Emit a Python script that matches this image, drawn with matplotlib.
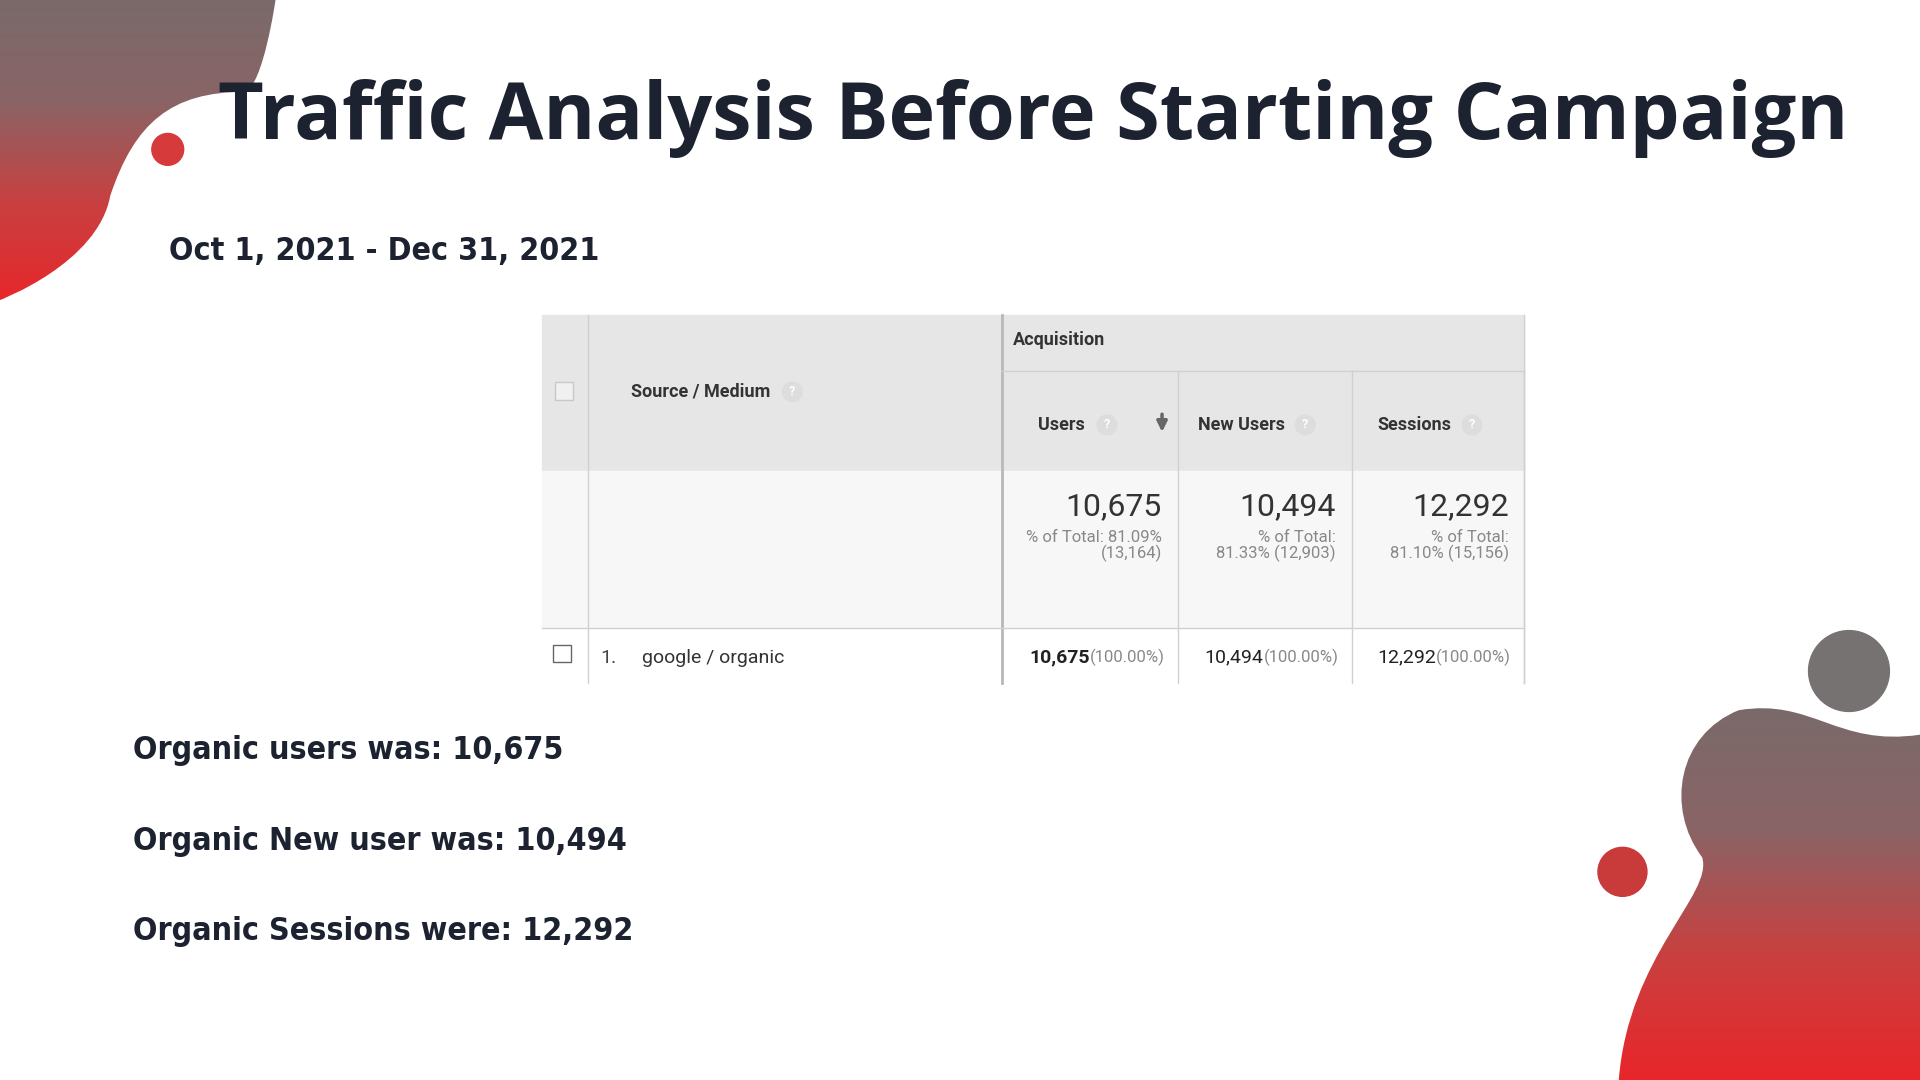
import numpy as np
import matplotlib
matplotlib.use("Agg")
import matplotlib.pyplot as plt
from matplotlib.patches import Rectangle, Circle, PathPatch
from matplotlib.path import Path
from matplotlib.colors import LinearSegmentedColormap

W, H = 1568, 882  # layout units (scaled to 1920x1080 output)

title = "Traffic Analysis Before Starting Campaign"
date_range = "Oct 1, 2021 - Dec 31, 2021"
metrics = ["Users", "New Users", "Sessions"]
totals = ["10,675", "10,494", "12,292"]
pct_text = ["% of Total: 81.09%\n(13,164)", "% of Total:\n81.33% (12,903)", "% of Total:\n81.10% (15,156)"]
row_source = "google / organic"
row_values = ["10,675", "10,494", "12,292"]
row_pct = ["(100.00%)", "(100.00%)", "(100.00%)"]
summary = ["Organic users was: 10,675", "Organic New user was: 10,494", "Organic Sessions were: 12,292"]

fig = plt.figure(figsize=(19.2, 10.8), dpi=100)
ax = fig.add_axes([0, 0, 1, 1])
ax.set_xlim(0, W)
ax.set_ylim(H, 0)
ax.axis("off")

cmap = LinearSegmentedColormap.from_list("blob", ["#e8262a", "#c94040", "#8a6466", "#7a6a6a"])


def gradient_blob(verts, codes, extent, reverse=False):
    path = Path(verts, codes)
    patch = PathPatch(path, facecolor="none", edgecolor="none")
    ax.add_patch(patch)
    g = np.linspace(0, 1, 256)
    grad = np.outer(g, np.ones(2)) if not reverse else np.outer(g[::-1], np.ones(2))
    im = ax.imshow(grad, cmap=cmap, extent=extent, aspect="auto", zorder=0)
    im.set_clip_path(patch)


C = Path.CURVE4
# top-left blob: grey at top, red at bottom
tl = [(0, 0), (225, 0), (225, 0), (215, 70), (200, 75), (140, 75), (110, 100),
      (90, 160), (80, 215), (0, 245), (0, 245), (0, 245), (0, 0)]
tl_codes = [Path.MOVETO, Path.LINETO, C, C, C, C, C, C, C, C, C, C, Path.CLOSEPOLY]
gradient_blob(tl, tl_codes, (0, 230, 250, 0), reverse=True)
# bottom-right blob
br = [(1568, 600), (1500, 610), (1480, 570), (1420, 580), (1370, 600), (1360, 660),
      (1390, 700), (1400, 730), (1330, 780), (1322, 882), (1322, 882), (1568, 882), (1568, 600)]
br_codes = [Path.MOVETO, C, C, C, C, C, C, C, C, C, Path.LINETO, Path.LINETO, Path.CLOSEPOLY]
gradient_blob(br, br_codes, (1320, 1568, 882, 575), reverse=True)

ax.add_patch(Circle((1510, 548), 33, color="#767272", zorder=1))
ax.add_patch(Circle((1325, 712), 20, color="#c93a3a", zorder=1))
ax.add_patch(Circle((137, 122), 13, color="#d63a3a", zorder=1))

ax.text(178, 97, title, fontsize=57, fontweight="bold", family="Open Sans",
        color="#1c2230", va="center", ha="left")
nf = dict(family="DejaVu Sans", fontstretch="condensed", fontweight="bold", color="#1c2230")
ax.text(138, 205, date_range, fontsize=23, va="center", ha="left", **nf)

# table
x0, x1, xs, xe = 443, 480, 818, 1245
cols = [818, 962, 1104, 1245]
hdr_top, hdr_mid, hdr_bot, tot_bot, row_bot = 257, 303, 385, 513, 558
ax.add_patch(Rectangle((x0, hdr_top), xe - x0, hdr_bot - hdr_top, color="#e6e6e6", zorder=2))
ax.add_patch(Rectangle((x0, hdr_bot), xe - x0, tot_bot - hdr_bot, color="#f7f7f7", zorder=2))
ax.add_patch(Rectangle((x0, tot_bot), xe - x0, row_bot - tot_bot, color="#ffffff", zorder=2))
lc = "#d0d0d0"
ax.plot([x1, x1], [hdr_top, row_bot], color=lc, lw=1, zorder=3)
ax.plot([xs, xs], [hdr_top, row_bot], color="#b8b8b8", lw=2, zorder=3)
for c in cols[1:]:
    ax.plot([c, c], [hdr_mid, row_bot], color=lc, lw=1, zorder=3)
ax.plot([xs, xe], [hdr_mid, hdr_mid], color=lc, lw=1, zorder=3)
ax.plot([x0, xe], [tot_bot, tot_bot], color=lc, lw=1, zorder=3)
ax.plot([xe, xe], [hdr_top, row_bot], color=lc, lw=1, zorder=3)

ax.add_patch(Rectangle((453, 312), 15, 15, facecolor="#f0f0f0", edgecolor="#c8c8c8", zorder=4))
ax.add_patch(Rectangle((452, 527), 14, 14, facecolor="white", edgecolor="#666666", zorder=4))

tf = dict(family="Roboto", zorder=5)
ax.text(515, 320, "Source / Medium", fontsize=13, fontweight="bold", color="#333333", va="center", **tf)
ax.text(827, 278, "Acquisition", fontsize=13, fontweight="bold", color="#333333", va="center", **tf)


def qmark(x, y):
    ax.add_patch(Circle((x, y), 8, color="#dddddd", zorder=5))
    ax.text(x, y, "?", fontsize=9, color="white", ha="center", va="center", fontweight="bold", **tf)


qmark(647, 320)
hx = [848, 978, 1125]
for i, m in enumerate(metrics):
    ax.text(hx[i], 347, m, fontsize=13, fontweight="bold", color="#333333", va="center", **tf)
qmark(904, 347)
qmark(1066, 347)
qmark(1202, 347)
ax.annotate("", xy=(949, 355), xytext=(949, 336),
            arrowprops=dict(arrowstyle="-|>", color="#666666", lw=2.5, mutation_scale=15), zorder=5)

fig.canvas.draw()
renderer = fig.canvas.get_renderer()
inv = ax.transData.inverted()
for i in range(3):
    r = cols[i + 1] - 13
    ax.text(r, 414, totals[i], fontsize=23, color="#333333", ha="right", va="center", **tf)
    ax.text(r, 446, pct_text[i], fontsize=12, color="#888888", ha="right", va="center",
            linespacing=0.95, **tf)
    pt = ax.text(r + 2, 537, row_pct[i], fontsize=12, color="#888888", ha="right", va="center", **tf)
    bb = pt.get_window_extent(renderer)
    left = inv.transform((bb.x0, bb.y0))[0]
    ax.text(left, 537, row_values[i], fontsize=14, color="#222222", ha="right", va="center",
            fontweight="bold" if i == 0 else "normal", **tf)
ax.text(490, 537, "1.", fontsize=14, color="#444444", va="center", **tf)
ax.text(524, 537, row_source, fontsize=14, color="#333333", va="center", **tf)

for i, s in enumerate(summary):
    ax.text(109, 613 + 74 * i, s, fontsize=23, va="center", ha="left", **nf)

fig.savefig("out.png", dpi=100)
